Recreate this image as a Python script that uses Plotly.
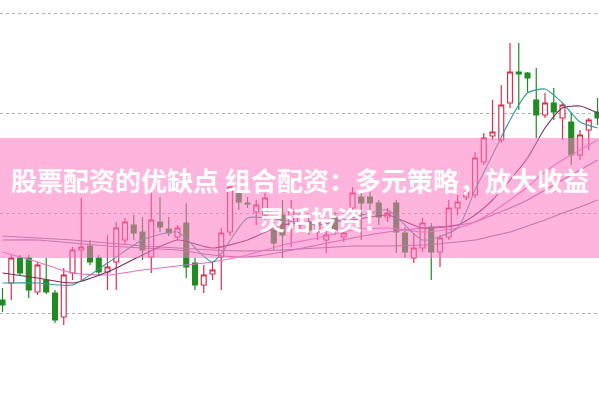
import plotly.graph_objects as go

# ---- data ----
idx = list(range(69))
open_ = [11.3, 13.0, 15.5, 15.5, 12.1, 13.3, 12.0, 9.6, 14.0, 16.3,
         16.7, 15.5, 14.1, 15.1, 17.3, 18.8, 18.1, 15.6, 19.1, 18.4,
         17.6, 19.0, 15.0, 12.8, 13.9, 15.6, 18.1, 22.1, 21.0, 20.1,
         19.8, 18.3, 19.8, 18.8, 18.8, 19.1, 18.1, 17.3, 19.5, 17.6,
         20.5, 21.6, 21.6, 21.0, 19.6, 21.0, 18.0, 15.5, 16.5, 18.6,
         16.1, 17.6, 20.5, 21.6, 21.8, 25.1, 27.7, 27.3, 31.0, 34.1,
         34.0, 31.3, 29.8, 31.0, 29.5, 29.1, 25.8, 28.3, 30.1]
high = [12.5, 15.8, 15.8, 15.8, 15.1, 15.5, 12.3, 14.5, 16.6, 21.5,
        17.3, 15.8, 17.8, 19.1, 19.5, 19.8, 19.6, 22.3, 21.6, 19.6,
        18.8, 21.0, 15.5, 14.8, 15.1, 18.5, 23.3, 22.8, 21.6, 21.3,
        22.0, 19.1, 21.3, 21.3, 20.3, 19.8, 20.3, 18.8, 20.1, 18.5,
        22.6, 22.3, 22.1, 21.3, 20.5, 21.3, 18.6, 18.0, 19.5, 19.0,
        17.8, 21.3, 21.8, 22.8, 26.1, 28.0, 31.3, 32.8, 37.0, 37.0,
        34.1, 34.5, 32.0, 32.5, 31.0, 30.0, 28.3, 29.5, 31.5]
low = [10.1, 11.3, 13.8, 11.5, 11.8, 11.9, 9.0, 8.8, 13.3, 13.3,
       14.8, 13.8, 12.3, 12.3, 16.8, 17.3, 15.3, 14.0, 18.1, 17.7,
       17.3, 13.5, 12.3, 12.0, 13.3, 12.3, 17.7, 20.3, 20.5, 18.8,
       19.3, 16.3, 15.5, 16.6, 18.1, 17.8, 17.3, 16.0, 17.8, 17.1,
       20.1, 17.3, 20.3, 18.8, 19.1, 16.0, 15.5, 15.0, 16.1, 13.3,
       14.6, 17.3, 19.8, 21.3, 21.5, 24.8, 27.3, 27.0, 30.5, 30.3,
       32.1, 27.5, 29.5, 29.3, 27.3, 24.8, 25.3, 26.3, 28.8]
close = [10.8, 15.5, 14.0, 12.3, 14.8, 12.1, 9.3, 13.8, 16.3, 16.6,
         15.1, 14.1, 14.6, 18.5, 19.1, 18.0, 16.3, 19.3, 18.6, 18.0,
         18.5, 14.6, 12.8, 13.8, 14.3, 18.0, 22.6, 21.1, 20.9, 20.8,
         21.5, 17.0, 17.8, 20.3, 19.8, 18.3, 19.1, 17.8, 18.3, 18.0,
         22.0, 21.0, 21.0, 19.6, 20.0, 18.1, 16.1, 16.5, 19.0, 16.1,
         17.5, 20.5, 21.1, 22.1, 25.5, 27.5, 28.1, 30.8, 34.1, 33.9,
         33.5, 29.8, 31.0, 30.1, 30.8, 25.8, 27.8, 29.3, 29.5]

ma_x = [0, 4, 8, 12, 16, 20, 24, 28, 32, 36, 40, 44, 48, 52, 54, 56, 58, 60, 62, 64, 66, 68]
ma5 = [13.0, 13.0, 12.8, 15.0, 17.3, 18.1, 15.1, 19.5, 19.3, 18.8, 19.5, 20.3,
       17.3, 18.5, 22.3, 25.8, 29.3, 32.0, 32.4, 31.0, 29.1, 28.5]
ma10 = [14.0, 13.5, 13.0, 14.1, 15.8, 17.3, 16.5, 17.3, 18.8, 19.1, 19.3, 19.8,
        18.5, 18.8, 19.8, 21.3, 23.3, 25.5, 28.5, 30.5, 30.7, 30.0]
ma20 = [16.1, 15.1, 14.0, 13.8, 14.3, 14.7, 15.1, 15.8, 16.8, 17.5, 18.3, 18.5,
        18.1, 18.5, 19.1, 20.1, 21.3, 22.6, 24.1, 25.3, 26.3, 27.3]
ma30 = [17.3, 17.3, 17.0, 16.7, 16.5, 16.3, 15.8, 15.6, 16.1, 16.8, 17.5, 18.1,
        18.5, 18.8, 19.1, 19.8, 20.5, 21.3, 22.3, 23.3, 24.3, 25.3]
ma60 = [17.7, 17.5, 17.3, 17.0, 16.7, 16.5, 16.3, 16.2, 16.3, 16.5, 16.7, 16.7,
        16.8, 17.1, 17.3, 17.7, 18.1, 18.7, 19.3, 20.0, 20.6, 21.3]

grid_vals = [10, 20, 30, 40]
title_line1 = "股票配资的优缺点 组合配资：多元策略，放大收益"
title_line2 = "灵活投资！"

RED = "#d92f4f"
GREEN = "#1f8c22"

fig = go.Figure()

for ys, col in [(ma60, "#7e7890"), (ma30, "#a06aa0"), (ma20, "#e070c8"),
                (ma10, "#7a2a5c"), (ma5, "#2e9a9a")]:
    fig.add_trace(go.Scatter(x=ma_x, y=ys, mode="lines",
                             line=dict(color=col, width=1.1, shape="spline", smoothing=0.6),
                             hoverinfo="skip", showlegend=False))

fig.add_trace(go.Candlestick(
    x=idx, open=open_, high=high, low=low, close=close,
    increasing=dict(line=dict(color=RED, width=1.2), fillcolor="white"),
    decreasing=dict(line=dict(color=GREEN, width=1.2), fillcolor=GREEN),
    whiskerwidth=0, showlegend=False))

fig.update_layout(
    width=599, height=397,
    margin=dict(l=0, r=0, t=0, b=0),
    paper_bgcolor="white", plot_bgcolor="white",
    showlegend=False,
    boxgap=0.2,
    xaxis=dict(range=[-0.286, 68.17], showgrid=False, showticklabels=False,
               zeroline=False, showline=False, rangeslider=dict(visible=False), fixedrange=True),
    yaxis=dict(range=[1.6, 41.3], tickvals=grid_vals, showgrid=True,
               gridcolor="#b0b0b0", griddash="dot", gridwidth=1,
               showticklabels=False, zeroline=False, showline=False),
    shapes=[dict(type="rect", xref="paper", yref="paper",
                 x0=0, x1=1, y0=1 - 258 / 397, y1=1 - 138 / 397,
                 fillcolor="rgba(255,118,195,0.55)", line=dict(width=0), layer="above")],
    annotations=[
        dict(text=title_line1, xref="paper", yref="paper", x=0.5, y=1 - 179 / 397,
             xanchor="center", yanchor="middle", showarrow=False,
             font=dict(family="Noto Sans CJK SC", size=26, color="white", weight="bold")),
        dict(text=title_line2, xref="paper", yref="paper", x=257 / 599, y=1 - 219 / 397,
             xanchor="left", yanchor="middle", showarrow=False,
             font=dict(family="Noto Sans CJK SC", size=26, color="white", weight="bold")),
    ],
)

fig.write_html("out.html")
